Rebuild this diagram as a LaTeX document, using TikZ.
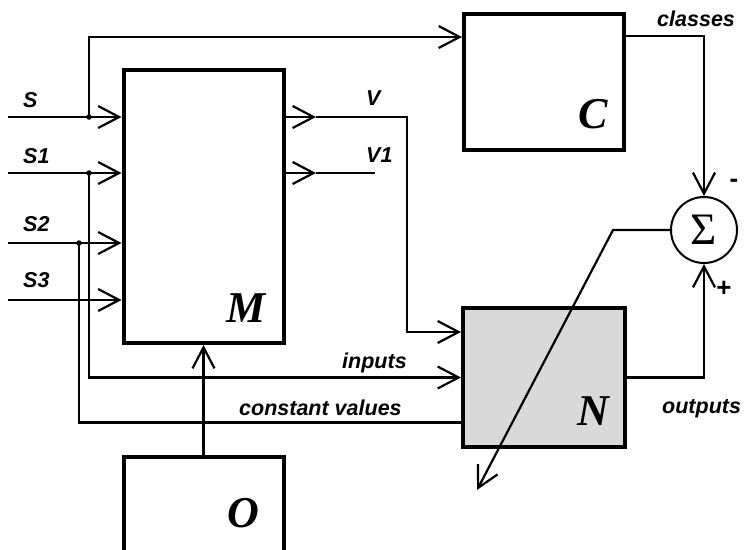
\documentclass[tikz,border=0pt]{standalone}
\usepackage{fontspec}
\setmainfont{Liberation Serif}
\setsansfont{Liberation Sans}
\usetikzlibrary{arrows.meta, positioning}

\begin{document}
\begin{tikzpicture}[x=1pt, y=-1pt,
            block/.style={draw=black, rectangle, line width=4pt, minimum width=160pt, inner sep=0pt},
            sig/.style={font=\sffamily\bfseries\itshape\fontsize{21.5}{21.5}\selectfont, inner sep=0pt},
            letter/.style={font=\bfseries\itshape\fontsize{44}{44}\selectfont, inner sep=0pt},
            dot/.style={circle, fill=black, inner sep=0pt, minimum size=5.5pt},
            line/.style={line width=2.2pt},
            arrow/.style={line width=2.2pt, -{Straight Barb[length=21pt, width=22pt]}}]

            \clip (0,0) rectangle (747,549);

            % Nodes
            \node (M) [block, minimum height=273pt] at (203.5,206.5) {};
            \node (C) [block, minimum height=136pt] at (544,82) {};
            \node (N) [block, fill=gray!30, minimum width=162pt, minimum height=139pt] at (544,377.5) {};
            \node (O) [block, minimum height=120pt] at (203.5,517) {};
            \node (sum) [draw, circle, line width=2pt, minimum size=66pt, inner sep=0pt,
                         font=\fontsize{45}{45}\selectfont] at (704,230) {Σ};

            \node (mlbl) [letter, anchor=base west] at (226,322) {M};
            \node (clbl) [letter, anchor=base west] at (578,128) {C};
            \node (nlbl) [letter, anchor=base west] at (577,425) {N};
            \node (olbl) [letter, anchor=base west] at (227,527) {O};

            \coordinate (sin) at (8,117);
            \coordinate (s1in) at (8,173);
            \coordinate (s2in) at (8,243);
            \coordinate (s3in) at (8,300);
            \node (js) [dot] at (89,117) {};
            \node (js1) [dot] at (89,173) {};
            \node (js2) [dot] at (79,243) {};
            \coordinate (vtip) at (316,117);
            \coordinate (vbend) at (407,117);
            \coordinate (v1tip) at (316,173);
            \coordinate (v1end) at (375,173);
            \coordinate (dbend) at (613,230);
            \coordinate (dend) at (477,490);

            \node (slbl) [sig, anchor=base west] at (23,107) {S};
            \node (s1lbl) [sig, anchor=base west] at (23,163) {S1};
            \node (s2lbl) [sig, anchor=base west] at (23,231) {S2};
            \node (s3lbl) [sig, anchor=base west] at (23,287) {S3};
            \node (vlbl) [sig, anchor=base west] at (366,105) {V};
            \node (v1lbl) [sig, anchor=base west] at (366,162) {V1};
            \node (inlbl) [sig, anchor=base west] at (342,368) {inputs};
            \node (cvlbl) [sig, anchor=base west] at (239,415) {constant values};
            \node (outlbl) [sig, anchor=base west] at (662,413) {outputs};
            \node (cllbl) [sig, anchor=base west] at (657,26) {classes};
            \node (minus) [sig, font=\sffamily\bfseries\fontsize{26}{26}\selectfont] at (734,183) {-};
            \node (plus) [sig, font=\sffamily\bfseries\fontsize{26}{26}\selectfont] at (724,289) {+};

            % Arrows
            \draw [arrow] (sin) -- (sin -| M.west);
            \draw [arrow] (s1in) -- (s1in -| M.west);
            \draw [arrow] (s2in) -- (s2in -| M.west);
            \draw [arrow] (s3in) -- (s3in -| M.west);
            \draw [arrow] (js.center) |- ([yshift=45pt]C.west);
            \draw [arrow] (js1.center) |- (N.west);
            \draw [line] (js2.center) |- ([yshift=-45pt]N.west);
            \draw [arrow] (sin -| M.east) -- (vtip);
            \draw [arrow] (vtip) -- (vbend) |- ([yshift=45.5pt]N.west);
            \draw [arrow] (s1in -| M.east) -- (v1tip);
            \draw [line] (v1tip) -- (v1end);
            \draw [arrow] ([yshift=46pt]C.east) -| (sum.north);
            \draw [arrow] (N.east) -| (sum.south);
            \draw [arrow] (sum.west) -- (dbend) -- (dend);
            \draw [arrow] (O.north) -- (M.south);
\end{tikzpicture}
\end{document}
